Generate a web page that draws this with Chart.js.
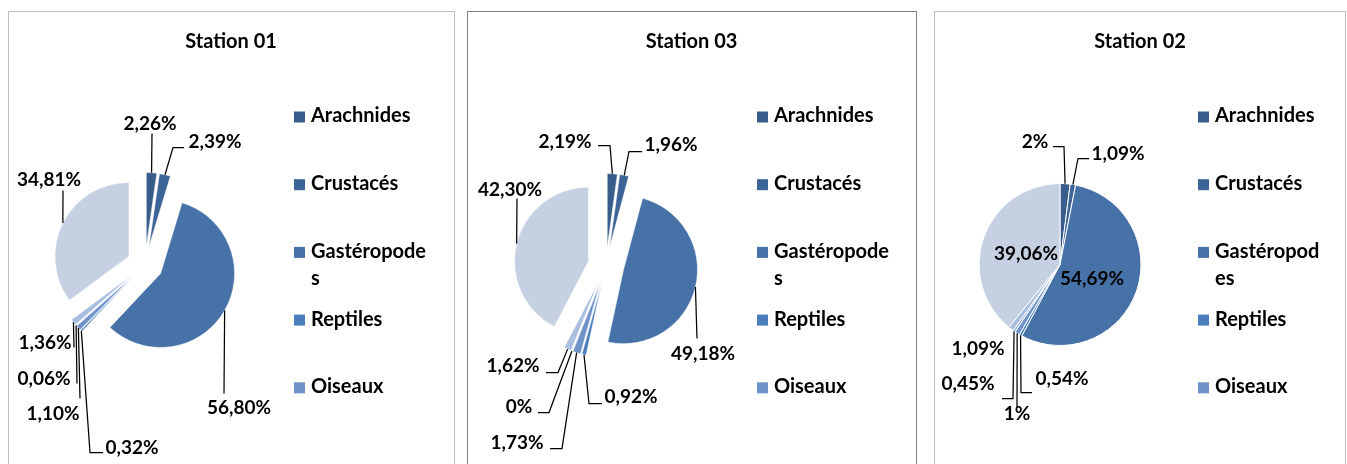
<!DOCTYPE html>
<html lang="fr">
<head>
<meta charset="utf-8">
<title>Stations</title>
<script src="https://cdn.jsdelivr.net/npm/chart.js@4.4.1/dist/chart.umd.min.js"></script>
<style>
  html, body { margin: 0; padding: 0; background: #fff; overflow: hidden; }
  body { width: 1347px; height: 464px; position: relative; }
  .cadre { position: absolute; box-sizing: border-box; border: 1px solid #bfbfbf; background: #fff; }
  .cadre.actif { border-color: #7f7f7f; }
  canvas { position: absolute; }
</style>
</head>
<body>
<div class="cadre" style="left:8px; top:11px; width:447px; height:470px;"></div>
<div class="cadre actif" style="left:467px; top:11px; width:450px; height:470px;"></div>
<div class="cadre" style="left:934px; top:11px; width:412px; height:470px;"></div>
<canvas id="station01" width="444" height="470" style="left:9px; top:12px;"></canvas>
<canvas id="station03" width="447" height="470" style="left:468px; top:12px;"></canvas>
<canvas id="station02" width="410" height="470" style="left:935px; top:12px;"></canvas>

<script>
// données (en %)
const categories = ['Arachnides', 'Crustacés', 'Gastéropodes', 'Reptiles', 'Oiseaux', 'Série 6', 'Série 7', 'Série 8'];
const station01 = [2.26, 2.39, 56.80, 0.32, 1.10, 0.06, 1.36, 34.81];
const station03 = [2.19, 1.96, 49.18, 0.92, 1.73, 0, 1.62, 42.30];
const station02 = [2, 1.09, 54.69, 0.54, 1, 0.45, 1.09, 39.06];

// seules les 5 premières séries tiennent dans la légende
const nbLegende = 5;

const couleurs = ['#385d8a', '#3d6497', '#4672a8', '#4b7ebd', '#6f93c8', '#8fabd6', '#a9bee0', '#c6d0e3'];
const police = 'Lato, "Open Sans", sans-serif';
const taille = 19;       // étiquettes de données
const tailleTexte = 20;  // titre et légende

function pourcent(v) {
  return (Number.isInteger(v) ? String(v) : v.toFixed(2).replace('.', ',')) + '%';
}

// position des étiquettes (texte + trait de rappel), relative au centre du camembert
const etiquettes01 = [
  { t: [5, -141], p: [[7, -131]] },
  { t: [70, -123], p: [[28, -117], [39, -117]] },
  { t: [94, 143], p: [[79, 129]] },
  { t: [-13, 183], p: [[-55, 188], [-42, 188]] },
  { t: [-92, 149], p: [[-65, 134]] },
  { t: [-101, 114], p: [[-68, 119]] },
  { t: [-100, 78], p: [[-71, 83]] },
  { t: [-96, -85], p: [[-82, -74]] }
];
const etiquettes03 = [
  { t: [-41, -124], p: [[4, -120], [-8, -120]] },
  { t: [65, -121], p: [[23, -114], [36, -114]] },
  { t: [97, 88], p: [[91, 73]] },
  { t: [25, 131], p: [[-17, 138], [-4, 138]] },
  { t: [-89, 177], p: [[-44, 183], [-56, 183]] },
  { t: [-87, 141], p: [[-57, 147], [-68, 147]] },
  { t: [-93, 100], p: [[-48, 107], [-60, 107]] },
  { t: [-96, -76], p: [[-89, -67]] }
];
const etiquettes02 = [
  { t: [-25, -123], p: [[4, -118], [-7, -118]] },
  { t: [58, -111], p: [[18, -106], [29, -106]] },
  { t: [32, 14], p: [] },
  { t: [2, 114], p: [[-39, 128], [-28, 128]] },
  { t: [-43, 149], p: [[-43, 143]] },
  { t: [-92, 119], p: [[-47, 134], [-58, 134]] },
  { t: [-82, 84], p: [] },
  { t: [-34, -11], p: [] }
];

function centre(chart) {
  const a = chart.chartArea;
  return { x: (a.left + a.right) / 2, y: (a.top + a.bottom) / 2 };
}

// secteurs éclatés : chaque part est décalée vers l'extérieur, rayon inchangé
const eclatement = {
  id: 'eclatement',
  beforeDatasetsDraw(chart, args, opts) {
    const c = centre(chart);
    chart.getDatasetMeta(0).data.forEach(arc => {
      const mid = (arc.startAngle + arc.endAngle) / 2;
      arc.x = c.x + Math.cos(mid) * opts.distance;
      arc.y = c.y + Math.sin(mid) * opts.distance;
    });
  }
};

// étiquettes de données avec traits de rappel
const etiquettesPlugin = {
  id: 'etiquettes',
  afterDatasetsDraw(chart, args, opts) {
    const ctx = chart.ctx;
    const meta = chart.getDatasetMeta(0);
    const valeurs = chart.data.datasets[0].data;
    const c = centre(chart);
    ctx.save();
    ctx.strokeStyle = '#000';
    ctx.lineWidth = 1.25;
    ctx.fillStyle = '#000';
    ctx.font = 'bold ' + taille + 'px ' + police;
    ctx.textAlign = 'center';
    ctx.textBaseline = 'middle';
    meta.data.forEach((arc, i) => {
      const spec = opts.liste[i];
      const mid = (arc.startAngle + arc.endAngle) / 2;
      if (spec.p.length) {
        ctx.beginPath();
        ctx.moveTo(arc.x + Math.cos(mid) * arc.outerRadius, arc.y + Math.sin(mid) * arc.outerRadius);
        spec.p.forEach(pt => ctx.lineTo(c.x + pt[0], c.y + pt[1]));
        ctx.stroke();
      }
      ctx.fillText(pourcent(valeurs[i]), c.x + spec.t[0], c.y + spec.t[1]);
    });
    ctx.restore();
  }
};

// légende à droite (boîte de mise en page), avec retour à la ligne comme dans Excel
const legendeExcel = {
  id: 'legendeExcel',
  beforeInit(chart) {
    const o = chart.options.plugins.legendeExcel;
    const box = {
      position: 'right', weight: 0, fullSize: false, options: {},
      left: 0, top: 0, right: 0, bottom: 0, width: 0, height: 0,
      update(maxW, maxH) { this.width = o.largeur; this.height = maxH; },
      isHorizontal() { return false; },
      getPadding() { return { left: 0, right: 0, top: 0, bottom: 0 }; },
      draw() {
        const ctx = chart.ctx;
        const ds = chart.data.datasets[0];
        ctx.save();
        ctx.font = 'bold ' + tailleTexte + 'px ' + police;
        ctx.textAlign = 'left';
        ctx.textBaseline = 'middle';
        for (let i = 0; i < nbLegende; i++) {
          const y = this.top + o.premier + i * o.pas;
          ctx.fillStyle = ds.backgroundColor[i];
          ctx.fillRect(this.left + 13, y - 5.5, 11, 11);
          ctx.fillStyle = '#000';
          let nom = chart.data.labels[i];
          if (nom.length > o.coupure) {
            ctx.fillText(nom.slice(0, o.coupure), this.left + 30, y - 1);
            ctx.fillText(nom.slice(o.coupure), this.left + 30, y - 1 + 27);
          } else {
            ctx.fillText(nom, this.left + 30, y - 1);
          }
        }
        ctx.restore();
      }
    };
    if (Chart.layouts && Chart.layouts.addBox) {
      Chart.layouts.addBox(chart, box);
    } else {
      box._layers = () => [{ z: 0, draw: () => box.draw() }];
      chart.boxes.push(box);
    }
  }
};

function camembert(id, titre, valeurs, rayon, eclate, bordure, legendeLargeur, coupure, basPadding, liste) {
  return new Chart(document.getElementById(id).getContext('2d'), {
    type: 'pie',
    data: {
      labels: categories,
      datasets: [{
        data: valeurs,
        backgroundColor: couleurs,
        borderColor: '#fff',
        borderWidth: bordure
      }]
    },
    options: {
      responsive: false,
      animation: false,
      events: [],
      radius: rayon,
      layout: { padding: { left: 0, right: 0, top: 0, bottom: basPadding } },
      plugins: {
        legend: { display: false },
        tooltip: { enabled: false },
        title: {
          display: true,
          text: titre,
          color: '#000',
          font: { family: police, size: tailleTexte, weight: 'bold' },
          padding: { top: 18, bottom: 0 }
        },
        legendeExcel: { largeur: legendeLargeur, coupure: coupure, premier: 63, pas: 67.7 },
        eclatement: { distance: eclate },
        etiquettes: { liste: liste }
      }
    },
    plugins: [legendeExcel, eclatement, etiquettesPlugin]
  });
}

camembert('station01', 'Station 01', station01, 74, 18, 0.5, 172, 11, 7, etiquettes01);
camembert('station03', 'Station 03', station03, 74, 18, 0.5, 171, 11, 5, etiquettes03);
camembert('station02', 'Station 02', station02, 81, 0, 1, 160, 10, 7, etiquettes02);
</script>
</body>
</html>
